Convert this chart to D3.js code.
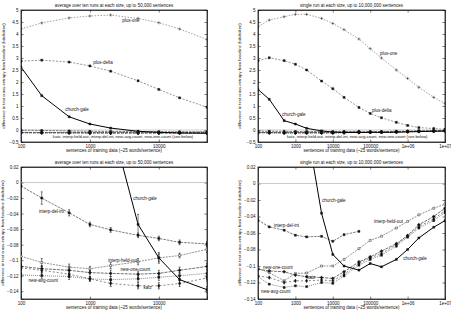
<!DOCTYPE html>
<html>
<head>
<meta charset="utf-8">
<script src="https://cdn.jsdelivr.net/npm/d3@7"></script>
<style>
body { margin: 0; background: #fff; }
text { font-family: "Liberation Sans", Arial, sans-serif; fill: #111; }
</style>
</head>
<body>
<div id="chart"></div>
<script>
var W = 451, H = 313;

// training set sizes
var sizesAvg = [100, 200, 500, 1000, 2000, 5000, 10000, 20000, 50000];
var sizesSingle = [100, 200, 500, 1e3, 2e3, 5e3, 1e4, 2e4, 5e4, 1e5, 2e5, 5e5, 1e6, 2e6, 5e6, 1e7];

// average over ten runs
var avgPlusOne = [4.21, 4.46, 4.67, 4.75, 4.79, 4.65, 4.47, 4.21, 3.77];
var avgPlusDelta = [2.87, 2.91, 2.83, 2.67, 2.45, 2.05, 1.69, 1.34, 0.95];
var avgChurchGale = [2.62, 1.43, 0.55, 0.25, 0.08, -0.054, -0.097, -0.125, -0.138];
var avgInterpDelInt = [-0.0045, -0.020, -0.039, -0.054, -0.061, -0.068, -0.072, -0.077, -0.079];
var avgInterpHeldOut = [-0.095, -0.103, -0.109, -0.111, -0.107, -0.102, -0.097, -0.094, -0.086];
var avgNewOneCount = [-0.108, -0.111, -0.113, -0.116, -0.117, -0.118, -0.117, -0.113, -0.108];
var avgNewAvgCount = [-0.119, -0.120, -0.121, -0.124, -0.125, -0.124, -0.122, -0.120, -0.117];
var avgKatz = [-0.110, -0.113, -0.118, -0.124, -0.130, -0.133, -0.133, -0.130, -0.123];

// error bar half widths (ten runs)
var errChurchGale = [0, 0, 0, 0, 0, 0.013, 0.007, 0.005, 0.004];
var errInterpDelInt = [0.002, 0.008, 0.004, 0.003, 0.003, 0.003, 0.003, 0.003, 0.003];
var errInterpHeldOut = [0.004, 0.005, 0.004, 0.003, 0.004, 0.004, 0.005, 0.003, 0.004];
var errNewOneCount = [0.004, 0.004, 0.004, 0.003, 0.004, 0.004, 0.004, 0.004, 0.004];
var errNewAvgCount = [0.003, 0.004, 0.004, 0.003, 0.004, 0.004, 0.004, 0.004, 0.004];
var errKatz = [0.004, 0.005, 0.004, 0.003, 0.004, 0.004, 0.004, 0.004, 0.004];

// single run
var sPlusOne = [4.31, 4.58, 4.72, 4.82, 4.82, 4.65, 4.44, 4.18, 3.79, 3.39, 3.00, 2.50, 2.15, 1.78, 1.36, 1.11];
var sPlusDelta = [2.89, 3.01, 2.89, 2.74, 2.50, 2.04, 1.72, 1.36, 0.94, 0.69, 0.51, 0.32, 0.19, 0.10, 0.06, 0.03];
var sChurchGale = [1.69, 1.28, 0.39, 0.25, 0.07, -0.036, -0.086, -0.100, -0.105, -0.097, -0.101, -0.092, -0.080, -0.066, -0.053, -0.045];
var sInterpDelInt = [-0.0445, -0.0526, -0.0566, -0.0627, -0.0647, -0.064, -0.070, -0.062, -0.058];
var sInterpHeldOut = [-0.103, -0.108, -0.118, -0.109, -0.1085, -0.100, -0.100, -0.092, -0.079, -0.069, -0.064, -0.054, -0.046, -0.038, -0.030, -0.025];
var sNewOneCount = [-0.104, -0.106, -0.107, -0.111, -0.113, -0.114, -0.115, -0.107, -0.095, -0.089, -0.082, -0.073, -0.063, -0.050, -0.040, -0.030];
var sKatz = [-0.112, -0.114, -0.120, -0.118, -0.118, -0.117, -0.118, -0.110, -0.097, -0.090, -0.085, -0.074, -0.064, -0.052, -0.043, -0.033];
var sNewAvgCount = [-0.113, -0.122, -0.126, -0.124, -0.125, -0.120, -0.121, -0.112, -0.099, -0.092, -0.087, -0.076, -0.065, -0.054, -0.045, -0.035];

// tick labels
var ticksXAvg = [100, 1000, 10000];
var tickLabelsXAvg = ["100", "1000", "10000"];
var ticksXSingle = [100, 1000, 10000, 100000, 1e6, 1e7];
var tickLabelsXSingle = ["100", "1000", "10000", "100000", "1e+06", "1e+07"];
var ticksYTop = [-0.5, 0, 0.5, 1, 1.5, 2, 2.5, 3, 3.5, 4, 4.5, 5];
var ticksYBottom = [0.02, 0, -0.02, -0.04, -0.06, -0.08, -0.1, -0.12, -0.14];

var titleAvg = "average over ten runs at each size, up to 50,000 sentences";
var titleSingle = "single run at each size, up to 10,000,000 sentences";
var xLabel = "sentences of training data (~25 words/sentence)";
var yLabel = "difference in test cross-entropy from baseline (bits/token)";
var clusterNote = "katz, interp-held-out, interp-del-int, new-avg-count, new-one-count (see below)";

var styles = {
    "plus-one":        {stroke: "#777", dash: "1.5,1.5", sym: d3.symbolPlus},
    "plus-delta":      {stroke: "#666", dash: "2,1.5", sym: d3.symbolSquare},
    "church-gale":     {stroke: "#000", dash: null, sym: d3.symbolSquare, w: 1},
    "interp-del-int":  {stroke: "#444", dash: "2.5,1", sym: d3.symbolSquare},
    "interp-held-out": {stroke: "#666", dash: "2,1", sym: d3.symbolSquare, open: true},
    "new-one-count":   {stroke: "#333", dash: "3,1", sym: d3.symbolCross},
    "new-avg-count":   {stroke: "#555", dash: "1,1", sym: d3.symbolSquare},
    "katz":            {stroke: "#555", dash: "2,2", sym: d3.symbolDiamond}
};

var svg = d3.select("#chart").append("svg")
    .attr("width", W)
    .attr("height", H);

function drawPanel(p, idx) {
    var x = d3.scaleLog().domain(p.xDomain).range([p.left, p.right]);
    var y = d3.scaleLinear().domain(p.yDomain).range([p.bottom, p.top]);
    var g = svg.append("g");

    g.append("clipPath").attr("id", "clip" + idx)
        .append("rect")
        .attr("x", p.left).attr("y", p.top)
        .attr("width", p.right - p.left).attr("height", p.bottom - p.top);

    // title
    g.append("text").text(p.title)
        .attr("x", (p.left + p.right) / 2).attr("y", p.top - 3.5)
        .attr("text-anchor", "middle").attr("font-size", "4.5px");

    // axes (gnuplot style: inward ticks, mirrored)
    var ax = d3.axisBottom(x).tickValues(p.xTicks).tickSize(-2.5).tickPadding(2.5)
        .tickFormat(function(d, i) { return p.xTickLabels[i]; });
    var axTop = d3.axisTop(x).tickValues(p.xTicks).tickSize(-2.5).tickFormat("");
    var ay = d3.axisLeft(y).tickValues(p.yTicks).tickSize(-2.5).tickPadding(2.5)
        .tickFormat(function(d) { return d3.format("")(+d.toFixed(2)); });
    var ayR = d3.axisRight(y).tickValues(p.yTicks).tickSize(-2.5).tickFormat("");

    g.append("g").attr("transform", "translate(0," + p.bottom + ")").call(ax);
    g.append("g").attr("transform", "translate(0," + p.top + ")").call(axTop);
    g.append("g").attr("transform", "translate(" + p.left + ",0)").call(ay);
    g.append("g").attr("transform", "translate(" + p.right + ",0)").call(ayR);
    g.selectAll(".domain").attr("stroke", "#222").attr("stroke-width", 0.8);
    g.selectAll(".tick line").attr("stroke", "#222").attr("stroke-width", 0.6);
    g.selectAll(".tick text").attr("font-size", "4.5px").attr("font-family", "Liberation Sans, Arial, sans-serif").attr("fill", "#111");

    g.append("rect")
        .attr("x", p.left).attr("y", p.top)
        .attr("width", p.right - p.left).attr("height", p.bottom - p.top)
        .attr("fill", "none").attr("stroke", "#222").attr("stroke-width", 0.8);

    // axis labels
    g.append("text").text(xLabel)
        .attr("x", (p.left + p.right) / 2).attr("y", p.bottom + 10)
        .attr("text-anchor", "middle").attr("font-size", "4.5px");
    g.append("text").text(yLabel)
        .attr("transform", "translate(" + p.yLabelX + "," + ((p.top + p.bottom) / 2) + ") rotate(-90)")
        .attr("text-anchor", "middle").attr("font-size", "4.2px");

    var plot = g.append("g").attr("clip-path", "url(#clip" + idx + ")");

    // baseline at zero
    plot.append("line")
        .attr("x1", p.left).attr("x2", p.right)
        .attr("y1", y(0)).attr("y2", y(0))
        .attr("stroke", "#999").attr("stroke-width", 0.5);

    p.series.forEach(function(s) {
        var st = styles[s.name];
        var pts = s.values.map(function(v, i) { return {x: p.sizes[i], y: v, e: s.err ? s.err[i] : 0}; });
        var line = d3.line().x(function(d) { return x(d.x); }).y(function(d) { return y(d.y); });
        plot.append("path").datum(pts)
            .attr("d", line)
            .attr("fill", "none")
            .attr("stroke", st.stroke)
            .attr("stroke-width", st.w || 0.7)
            .attr("stroke-dasharray", st.dash);
        if (s.err) {
            plot.selectAll(null).data(pts.filter(function(d) { return d.e > 0; }))
                .enter().append("path")
                .attr("d", function(d) {
                    var cx = x(d.x), y1 = y(d.y - d.e), y2 = y(d.y + d.e);
                    return "M" + (cx - 1) + "," + y1 + "H" + (cx + 1) + "M" + cx + "," + y1 + "V" + y2 + "M" + (cx - 1) + "," + y2 + "H" + (cx + 1);
                })
                .attr("stroke", "#111").attr("stroke-width", 0.55).attr("fill", "none");
        }
        plot.selectAll(null).data(pts)
            .enter().append("path")
            .attr("transform", function(d) { return "translate(" + x(d.x) + "," + y(d.y) + ")"; })
            .attr("d", d3.symbol().type(st.sym).size(4))
            .attr("fill", st.open ? "#fff" : "#111")
            .attr("stroke", "#111")
            .attr("stroke-width", 0.45);
    });

    p.notes.forEach(function(n) {
        g.append("text").text(n.text)
            .attr("x", x(n.x)).attr("y", y(n.y))
            .attr("font-size", n.small ? "4.05px" : "4.5px");
    });
}

var panels = [
    {
        title: titleAvg, left: 21, right: 207, top: 10, bottom: 142, yLabelX: 5,
        xDomain: [100, 50000], yDomain: [-0.5, 5], sizes: sizesAvg,
        xTicks: ticksXAvg, xTickLabels: tickLabelsXAvg, yTicks: ticksYTop,
        series: [
            {name: "plus-one", values: avgPlusOne},
            {name: "plus-delta", values: avgPlusDelta},
            {name: "interp-del-int", values: avgInterpDelInt},
            {name: "interp-held-out", values: avgInterpHeldOut},
            {name: "new-one-count", values: avgNewOneCount},
            {name: "new-avg-count", values: avgNewAvgCount},
            {name: "katz", values: avgKatz},
            {name: "church-gale", values: avgChurchGale}
        ],
        notes: [
            {text: "plus-one", x: 2950, y: 4.5},
            {text: "plus-delta", x: 1120, y: 2.77},
            {text: "church-gale", x: 437, y: 0.8},
            {text: clusterNote, x: 290, y: -0.32, small: true}
        ]
    },
    {
        title: titleSingle, left: 258, right: 445, top: 10, bottom: 142, yLabelX: 241,
        xDomain: [100, 1e7], yDomain: [-0.5, 5], sizes: sizesSingle,
        xTicks: ticksXSingle, xTickLabels: tickLabelsXSingle, yTicks: ticksYTop,
        series: [
            {name: "plus-one", values: sPlusOne},
            {name: "plus-delta", values: sPlusDelta},
            {name: "interp-del-int", values: sInterpDelInt},
            {name: "interp-held-out", values: sInterpHeldOut},
            {name: "new-one-count", values: sNewOneCount},
            {name: "new-avg-count", values: sNewAvgCount},
            {name: "katz", values: sKatz},
            {name: "church-gale", values: sChurchGale}
        ],
        notes: [
            {text: "plus-one", x: 182000, y: 3.13},
            {text: "plus-delta", x: 112000, y: 0.75},
            {text: "church-gale", x: 437, y: 0.58},
            {text: clusterNote, x: 600, y: -0.33, small: true}
        ]
    },
    {
        title: titleAvg, left: 21, right: 207, top: 167, bottom: 299, yLabelX: 4,
        xDomain: [100, 50000], yDomain: [-0.15, 0.02], sizes: sizesAvg,
        xTicks: ticksXAvg, xTickLabels: tickLabelsXAvg, yTicks: ticksYBottom,
        series: [
            {name: "interp-del-int", values: avgInterpDelInt, err: errInterpDelInt},
            {name: "interp-held-out", values: avgInterpHeldOut, err: errInterpHeldOut},
            {name: "new-one-count", values: avgNewOneCount, err: errNewOneCount},
            {name: "new-avg-count", values: avgNewAvgCount, err: errNewAvgCount},
            {name: "katz", values: avgKatz, err: errKatz},
            {name: "church-gale", values: avgChurchGale, err: errChurchGale}
        ],
        notes: [
            {text: "interp-del-int", x: 183, y: -0.039},
            {text: "church-gale", x: 4270, y: -0.0225},
            {text: "interp-held-out", x: 1850, y: -0.1024},
            {text: "new-one-count", x: 2770, y: -0.114},
            {text: "new-avg-count", x: 128, y: -0.128},
            {text: "katz", x: 5990, y: -0.137}
        ]
    },
    {
        title: titleSingle, left: 258, right: 445, top: 167, bottom: 299, yLabelX: 241,
        xDomain: [100, 1e7], yDomain: [-0.14, 0.02], sizes: sizesSingle,
        xTicks: ticksXSingle, xTickLabels: tickLabelsXSingle, yTicks: ticksYBottom,
        series: [
            {name: "interp-del-int", values: sInterpDelInt},
            {name: "interp-held-out", values: sInterpHeldOut},
            {name: "new-one-count", values: sNewOneCount},
            {name: "new-avg-count", values: sNewAvgCount},
            {name: "katz", values: sKatz},
            {name: "church-gale", values: sChurchGale}
        ],
        notes: [
            {text: "church-gale", x: 5150, y: -0.0224},
            {text: "interp-del-int", x: 268, y: -0.0527},
            {text: "interp-held-out", x: 126000, y: -0.0479},
            {text: "church-gale", x: 760000, y: -0.0927},
            {text: "new-one-count", x: 136, y: -0.104},
            {text: "katz", x: 2050, y: -0.1158},
            {text: "new-avg-count", x: 120, y: -0.133}
        ]
    }
];

panels.forEach(drawPanel);
</script>
</body>
</html>
